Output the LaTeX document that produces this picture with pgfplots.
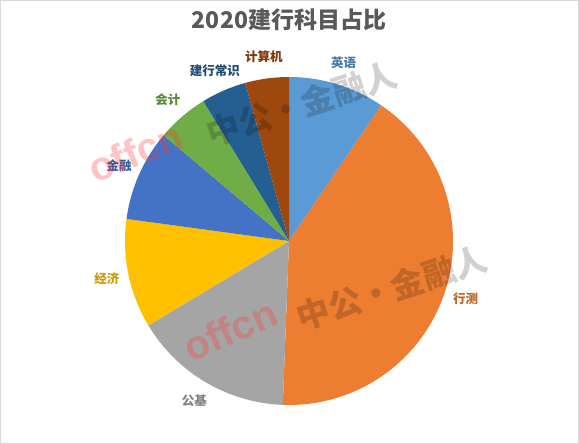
\documentclass[border=0pt]{standalone}
\usepackage{pgfplots}
\usepackage{pgfplotstable}
\pgfplotsset{compat=1.18}
\usepackage{fontspec}
\setmainfont{Liberation Sans}
\newfontfamily\cjk{Noto Sans CJK SC}
\definecolor{c1}{HTML}{5B9BD5}
\definecolor{c2}{HTML}{ED7D31}
\definecolor{c3}{HTML}{A5A5A5}
\definecolor{c4}{HTML}{FFC000}
\definecolor{c5}{HTML}{4472C4}
\definecolor{c6}{HTML}{70AD47}
\definecolor{c7}{HTML}{255E91}
\definecolor{c8}{HTML}{9E480E}
\definecolor{titlegray}{HTML}{595959}
\pgfplotstableread{
label value col
英语 9.5 c1
行测 41.1 c2
公基 15.8 c3
经济 10.75 c4
金融 9.0 c5
会计 5.1 c6
建行常识 4.45 c7
计算机 4.3 c8
}\datatable
\begin{document}
\begin{tikzpicture}
\begin{axis}[
  x=1pt, y=1pt,
  xmin=0, xmax=579, ymin=0, ymax=444,
  axis lines=none,
  clip=false,
]
\addplot[draw=none, forget plot] coordinates {(0,0) (579,444)};
\pgfplotsextra{
  \fill[white] (axis cs:0,0) rectangle (axis cs:579,444);
  \draw[black!15, line width=1.2pt] (axis cs:0.6,0.6) rectangle (axis cs:578.4,443.4);
  \pgfplotstablegetrowsof{\datatable}
  \pgfmathtruncatemacro\N{\pgfplotsretval-1}
  \gdef\cum{0}
  \foreach \i in {0,...,\N} {
    \pgfplotstablegetelem{\i}{value}\of\datatable
    \let\v\pgfplotsretval
    \pgfplotstablegetelem{\i}{col}\of\datatable
    \edef\c{\pgfplotsretval}
    \pgfplotstablegetelem{\i}{label}\of\datatable
    \let\lab\pgfplotsretval
    \pgfmathsetmacro\a{90-\cum*3.6}
    \pgfmathsetmacro\b{90-(\cum+\v)*3.6}
    \pgfmathsetmacro\m{(\a+\b)/2}
    \fill[\c] (axis cs:289,203) -- ++(\a:164pt) arc[start angle=\a, end angle=\b, radius=164pt] -- cycle;
    \path (axis cs:289,203) ++(\m:186pt) node[text=\c!80!black, font=\cjk\bfseries\fontsize{12.5}{14}\selectfont] {\lab};
    \pgfmathsetmacro\nc{\cum+\v}
    \global\let\cum\nc
  }
  \node[text=titlegray, font=\cjk\bfseries\fontsize{23}{26}\selectfont] at (axis cs:289,424) {2020建行科目占比};
  \node[rotate=18, text=black, opacity=0.18, font=\cjk\bfseries\fontsize{33}{36}\selectfont] at (axis cs:302,340) {中公·金融人};
  \node[rotate=18, text=black, opacity=0.18, font=\cjk\bfseries\fontsize{33}{36}\selectfont] at (axis cs:392,156) {中公·金融人};
  \node[rotate=22, text=red!70!pink, opacity=0.3, font=\bfseries\fontsize{40}{44}\selectfont] at (axis cs:135,292) {offcn};
  \node[rotate=24, text=red!70!pink, opacity=0.3, font=\bfseries\fontsize{40}{44}\selectfont] at (axis cs:230,114) {offcn};
}
\end{axis}
\end{tikzpicture}
\end{document}
